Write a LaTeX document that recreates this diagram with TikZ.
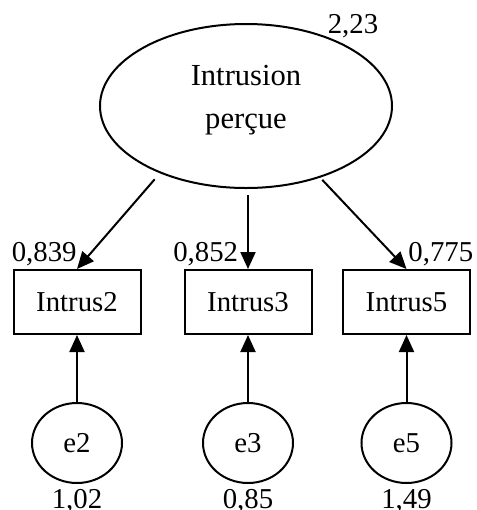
\documentclass[tikz,border=0pt]{standalone}
\usepackage{fontspec}
\setmainfont{Liberation Serif}
\usetikzlibrary{shapes.geometric,arrows.meta}

\begin{document}
\begin{tikzpicture}[node distance=70.5pt,
    every node/.style={font=\fontsize{14.4}{21.5}\selectfont},
    observed/.style={rectangle, draw, line width=1pt, minimum width=63.5pt,
        minimum height=32pt, inner sep=0pt},
    errorvar/.style={ellipse, draw, line width=1pt, minimum width=45pt,
        minimum height=40pt, inner sep=0pt},
    estimate/.style={inner sep=0pt},
    regpath/.style={-{Triangle[length=8.5pt, width=7.5pt]}, line width=1pt}]
    \useasboundingbox (0,0) rectangle (238.5pt,-255pt);
    % Nodes
    \node (latent) [ellipse, draw, line width=1pt, minimum width=146pt,
      minimum height=82pt, inner sep=0pt] at (123pt,-53pt) {};
    \node (latentname) [align=center, font=\fontsize{15.3}{21.5}\selectfont]
      at (123pt,-50pt) {Intrusion\\perçue};
    \node (vlatent) [estimate, anchor=base] at (176.5pt,-16.5pt) {2,23};

    \node (intrus2) [observed] at (38.5pt,-151pt) {Intrus2};
    \node (intrus3) [observed] at (124pt,-151pt) {Intrus3};
    \node (intrus5) [observed] at (203.25pt,-151pt) {Intrus5};

    \node (e2) [errorvar, below of=intrus2] {e2};
    \node (e3) [errorvar, below of=intrus3] {e3};
    \node (e5) [errorvar, below of=intrus5] {e5};

    % Estimates
    \node (l2) [estimate, anchor=base east] at ([yshift=4pt]intrus2.north)
    {0,839};
    \node (l3) [estimate, anchor=base east] at
    ([xshift=-4.75pt, yshift=4pt]intrus3.north) {0,852};
    \node (l5) [estimate, anchor=base west] at
    ([xshift=0.75pt, yshift=4pt]intrus5.north) {0,775};
    \node (v2) [estimate, anchor=base] at ([yshift=-12.3pt]e2.south) {1,02};
    \node (v3) [estimate, anchor=base] at ([yshift=-12.3pt]e3.south) {0,85};
    \node (v5) [estimate, anchor=base] at ([yshift=-12.3pt]e5.south) {1,49};

    % Links
    \draw [regpath, shorten <=4pt] (latent.-142) -- (intrus2.north);
    \draw [regpath, shorten <=3pt] (intrus3.north |- latent.south)
      -- (intrus3.north);
    \draw [regpath, shorten <=1.5pt] (latent.-44) -- (intrus5.north);
    \draw [regpath] (e2.north) -- (intrus2.south);
    \draw [regpath] (e3.north) -- (intrus3.south);
    \draw [regpath] (e5.north) -- (intrus5.south);
  \end{tikzpicture}
\end{document}
